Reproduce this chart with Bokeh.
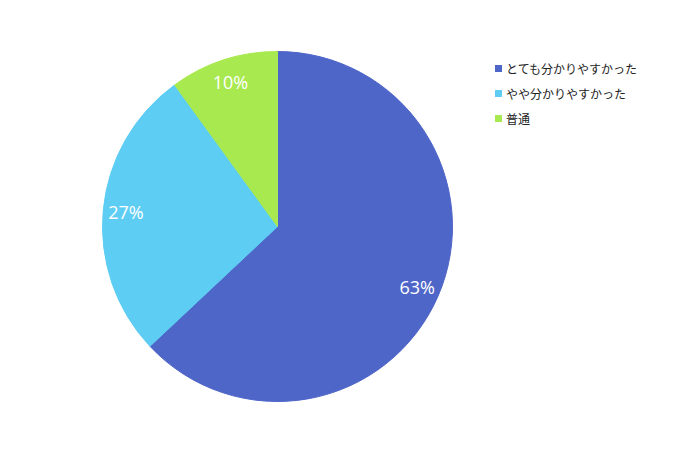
import math
from bokeh.plotting import figure
from bokeh.models import Range1d, ColumnDataSource
from bokeh.core.properties import value
from bokeh.embed import file_html
from bokeh.resources import INLINE

categories = ["とても分かりやすかった", "やや分かりやすかった", "普通"]
values = [63, 27, 10]
colors = ["#4f66c9", "#5ecdf4", "#a8e94f"]

W, H = 660, 459
cx, cy, r = 277, 233, 175

total = sum(values)
starts, ends, lx, ly, labels = [], [], [], [], []
a = math.pi / 2
for v in values:
    span = 2 * math.pi * v / total
    s = a
    e = a - span
    starts.append(s)
    ends.append(e)
    mid = (s + e) / 2
    lx.append(cx + 0.87 * r * math.cos(mid))
    ly.append(cy + 0.87 * r * math.sin(mid))
    labels.append(f"{round(100 * v / total)}%")
    a = e

p = figure(width=W, height=H, output_backend="svg", toolbar_location=None,
           x_range=Range1d(0, W), y_range=Range1d(0, H), min_border=0)
p.axis.visible = False
p.grid.visible = False
p.outline_line_color = None
p.background_fill_color = "white"

src = ColumnDataSource(dict(start=starts, end=ends, color=colors))
p.wedge(x=cx, y=cy, radius=r, start_angle="start", end_angle="end",
        direction="clock", fill_color="color", line_color="color", source=src)

p.text(x=lx, y=ly, text=labels, text_color="white", text_font=value("Open Sans"),
       text_font_size="18px", text_align="center", text_baseline="middle")

# legend
leg_y = [H - 68 - 25 * i for i in range(len(categories))]
p.rect(x=[498] * len(categories), y=leg_y, width=7, height=7,
       fill_color=colors, line_color=None)
p.text(x=[505.5] * len(categories), y=leg_y, text=categories, text_color="#222222",
       text_font=value("Noto Sans CJK JP"), text_font_size="12px",
       text_align="left", text_baseline="middle")

open("out.html", "w").write(file_html(p, INLINE))
